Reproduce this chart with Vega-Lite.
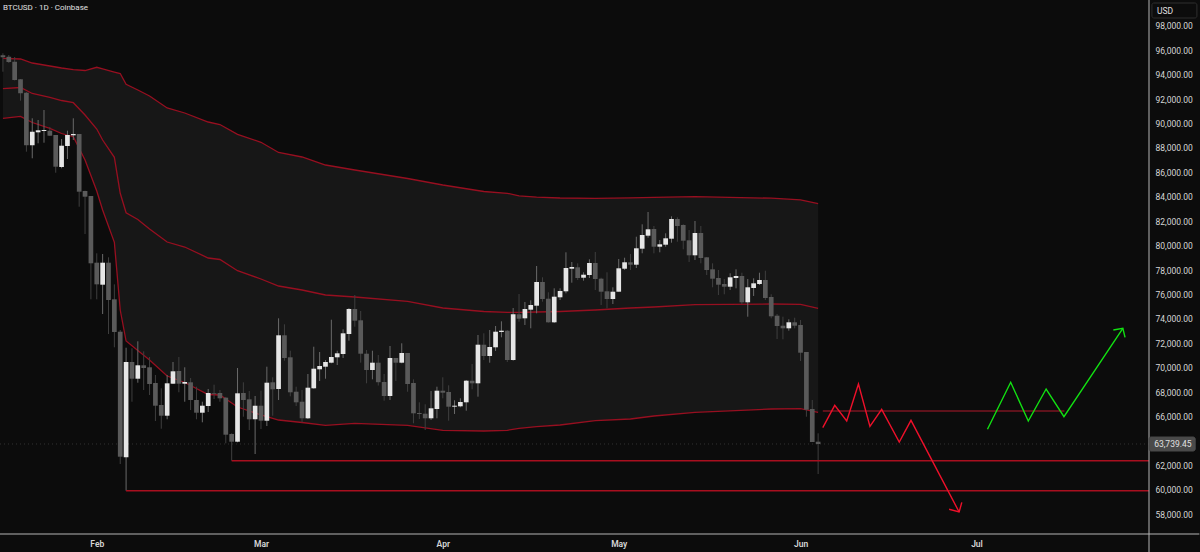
{
  "$schema": "https://vega.github.io/schema/vega-lite/v6.json",
  "background": "#0c0c0c",
  "width": 1149,
  "height": 534,
  "autosize": "none",
  "padding": {"left": 0, "top": 0, "right": 51, "bottom": 18},
  "view": {"stroke": null},
  "config": {"font": "Roboto", "axis": {"labelOverlap": false, "labelFlush": false}},
  "datasets": {
    "candles": [
      {"date":"2026-01-16","o":95600,"h":95762,"l":94254,"c":95434},
      {"date":"2026-01-17","o":95484,"h":95623,"l":94967,"c":95049},
      {"date":"2026-01-18","o":95074,"h":95459,"l":93533,"c":93574},
      {"date":"2026-01-19","o":93631,"h":93656,"l":91877,"c":92483},
      {"date":"2026-01-20","o":92533,"h":92590,"l":87697,"c":88221},
      {"date":"2026-01-21","o":88221,"h":90434,"l":87156,"c":89336},
      {"date":"2026-01-22","o":89287,"h":90295,"l":88385,"c":89451},
      {"date":"2026-01-23","o":89393,"h":91115,"l":88434,"c":89475},
      {"date":"2026-01-24","o":89418,"h":89721,"l":88984,"c":89008},
      {"date":"2026-01-25","o":89065,"h":89065,"l":85975,"c":86467},
      {"date":"2026-01-26","o":86443,"h":88737,"l":86336,"c":88188},
      {"date":"2026-01-27","o":88164,"h":89418,"l":87098,"c":89065},
      {"date":"2026-01-28","o":89041,"h":90434,"l":88656,"c":89147},
      {"date":"2026-01-29","o":89147,"h":89147,"l":83189,"c":84418},
      {"date":"2026-01-30","o":84476,"h":84500,"l":80951,"c":84008},
      {"date":"2026-01-31","o":84066,"h":84066,"l":75598,"c":78549},
      {"date":"2026-02-01","o":78600,"h":79369,"l":75598,"c":76824},
      {"date":"2026-02-02","o":76795,"h":79312,"l":74393,"c":78599},
      {"date":"2026-02-03","o":78599,"h":79041,"l":72754,"c":75541},
      {"date":"2026-02-04","o":75598,"h":76824,"l":71664,"c":72920},
      {"date":"2026-02-05","o":72942,"h":73082,"l":62098,"c":62696},
      {"date":"2026-02-06","o":62647,"h":71631,"l":59910,"c":70459},
      {"date":"2026-02-07","o":70459,"h":71582,"l":67204,"c":69090},
      {"date":"2026-02-08","o":69090,"h":72156,"l":68762,"c":70188},
      {"date":"2026-02-09","o":70188,"h":71336,"l":68164,"c":69967},
      {"date":"2026-02-10","o":70025,"h":70869,"l":67754,"c":68656},
      {"date":"2026-02-11","o":68738,"h":69393,"l":65623,"c":66877},
      {"date":"2026-02-12","o":66934,"h":68302,"l":64992,"c":66057},
      {"date":"2026-02-13","o":66057,"h":69393,"l":65762,"c":68713},
      {"date":"2026-02-14","o":68680,"h":70459,"l":68656,"c":69696},
      {"date":"2026-02-15","o":69721,"h":70869,"l":67976,"c":68680},
      {"date":"2026-02-16","o":68680,"h":70025,"l":67204,"c":68820},
      {"date":"2026-02-17","o":68795,"h":69147,"l":66524,"c":67344},
      {"date":"2026-02-18","o":67344,"h":68434,"l":65762,"c":66303},
      {"date":"2026-02-19","o":66303,"h":67204,"l":65516,"c":66877},
      {"date":"2026-02-20","o":66853,"h":68245,"l":66361,"c":67918},
      {"date":"2026-02-21","o":67893,"h":68598,"l":67426,"c":67836},
      {"date":"2026-02-22","o":67918,"h":68164,"l":67204,"c":67483},
      {"date":"2026-02-23","o":67533,"h":67590,"l":63795,"c":64500},
      {"date":"2026-02-24","o":64557,"h":64614,"l":62369,"c":63926},
      {"date":"2026-02-25","o":63926,"h":69967,"l":63877,"c":67893},
      {"date":"2026-02-26","o":67918,"h":68795,"l":65975,"c":67344},
      {"date":"2026-02-27","o":67401,"h":68082,"l":64885,"c":65762},
      {"date":"2026-02-28","o":65762,"h":67672,"l":62918,"c":66877},
      {"date":"2026-03-01","o":66877,"h":68107,"l":64967,"c":65647},
      {"date":"2026-03-02","o":65647,"h":70074,"l":65213,"c":68762},
      {"date":"2026-03-03","o":68795,"h":69205,"l":66057,"c":68221},
      {"date":"2026-03-04","o":68245,"h":74040,"l":67344,"c":72648},
      {"date":"2026-03-05","o":72648,"h":73549,"l":70566,"c":70787},
      {"date":"2026-03-06","o":70844,"h":71385,"l":67648,"c":67975},
      {"date":"2026-03-07","o":68024,"h":68434,"l":66853,"c":67155},
      {"date":"2026-03-08","o":67204,"h":68164,"l":65516,"c":65844},
      {"date":"2026-03-09","o":65844,"h":69475,"l":65787,"c":68352},
      {"date":"2026-03-10","o":68303,"h":71713,"l":68271,"c":69910},
      {"date":"2026-03-11","o":69860,"h":71279,"l":68902,"c":70131},
      {"date":"2026-03-12","o":70074,"h":70623,"l":69090,"c":70459},
      {"date":"2026-03-13","o":70402,"h":73926,"l":70352,"c":70869},
      {"date":"2026-03-14","o":70844,"h":71385,"l":70213,"c":71172},
      {"date":"2026-03-15","o":71115,"h":73139,"l":70787,"c":72811},
      {"date":"2026-03-16","o":72754,"h":74885,"l":72205,"c":74803},
      {"date":"2026-03-17","o":74803,"h":75951,"l":73353,"c":73844},
      {"date":"2026-03-18","o":73877,"h":74639,"l":70402,"c":71139},
      {"date":"2026-03-19","o":71139,"h":71442,"l":68713,"c":69803},
      {"date":"2026-03-20","o":69803,"h":71385,"l":69040,"c":70402},
      {"date":"2026-03-21","o":70402,"h":71033,"l":68532,"c":68803},
      {"date":"2026-03-22","o":68820,"h":69475,"l":67287,"c":67672},
      {"date":"2026-03-23","o":67672,"h":71770,"l":67344,"c":70787},
      {"date":"2026-03-24","o":70787,"h":70787,"l":68902,"c":70402},
      {"date":"2026-03-25","o":70402,"h":71991,"l":70352,"c":71197},
      {"date":"2026-03-26","o":71197,"h":71197,"l":68023,"c":68656},
      {"date":"2026-03-27","o":68738,"h":69040,"l":65434,"c":66254},
      {"date":"2026-03-28","o":66279,"h":67155,"l":65787,"c":66197},
      {"date":"2026-03-29","o":66222,"h":66991,"l":64885,"c":65844},
      {"date":"2026-03-30","o":65844,"h":68082,"l":65705,"c":66664},
      {"date":"2026-03-31","o":66607,"h":68434,"l":65844,"c":68106},
      {"date":"2026-04-01","o":68106,"h":69205,"l":67483,"c":67942},
      {"date":"2026-04-02","o":67999,"h":68549,"l":65648,"c":66795},
      {"date":"2026-04-03","o":66795,"h":67320,"l":66197,"c":66877},
      {"date":"2026-04-04","o":66828,"h":67483,"l":66746,"c":67180},
      {"date":"2026-04-05","o":67155,"h":68984,"l":66467,"c":68926},
      {"date":"2026-04-06","o":68926,"h":70295,"l":68221,"c":68713},
      {"date":"2026-04-07","o":68713,"h":72672,"l":67615,"c":71877},
      {"date":"2026-04-08","o":71877,"h":72811,"l":70623,"c":70951},
      {"date":"2026-04-09","o":70951,"h":73082,"l":70402,"c":71688},
      {"date":"2026-04-10","o":71664,"h":73410,"l":71361,"c":72942},
      {"date":"2026-04-11","o":72918,"h":73795,"l":72483,"c":73025},
      {"date":"2026-04-12","o":73025,"h":73082,"l":70459,"c":70623},
      {"date":"2026-04-13","o":70623,"h":74885,"l":70566,"c":74369},
      {"date":"2026-04-14","o":74369,"h":76033,"l":73762,"c":74008},
      {"date":"2026-04-15","o":74040,"h":75377,"l":73492,"c":74803},
      {"date":"2026-04-16","o":74746,"h":75516,"l":73221,"c":75131},
      {"date":"2026-04-17","o":75074,"h":78328,"l":74451,"c":77017},
      {"date":"2026-04-18","o":77017,"h":77401,"l":75402,"c":75623},
      {"date":"2026-04-19","o":75647,"h":76172,"l":73680,"c":73713},
      {"date":"2026-04-20","o":73713,"h":76500,"l":73656,"c":75812},
      {"date":"2026-04-21","o":75762,"h":76500,"l":75541,"c":76279},
      {"date":"2026-04-22","o":76254,"h":79451,"l":76090,"c":78164},
      {"date":"2026-04-23","o":78106,"h":78656,"l":76959,"c":78246},
      {"date":"2026-04-24","o":78221,"h":78549,"l":77180,"c":77344},
      {"date":"2026-04-25","o":77368,"h":77811,"l":77123,"c":77614},
      {"date":"2026-04-26","o":77590,"h":78877,"l":77344,"c":78574},
      {"date":"2026-04-27","o":78574,"h":79475,"l":76360,"c":77262},
      {"date":"2026-04-28","o":77287,"h":77368,"l":75131,"c":76221},
      {"date":"2026-04-29","o":76254,"h":77811,"l":74860,"c":75623},
      {"date":"2026-04-30","o":75623,"h":76582,"l":75213,"c":76221},
      {"date":"2026-05-01","o":76221,"h":78901,"l":76221,"c":78139},
      {"date":"2026-05-02","o":78106,"h":79008,"l":77999,"c":78631},
      {"date":"2026-05-03","o":78631,"h":79311,"l":77999,"c":78435},
      {"date":"2026-05-04","o":78435,"h":80729,"l":78164,"c":79779},
      {"date":"2026-05-05","o":79746,"h":81746,"l":79368,"c":80869},
      {"date":"2026-05-06","o":80812,"h":82754,"l":80647,"c":81336},
      {"date":"2026-05-07","o":81361,"h":81606,"l":79368,"c":79910},
      {"date":"2026-05-08","o":79910,"h":80459,"l":79451,"c":80106},
      {"date":"2026-05-09","o":80073,"h":81008,"l":79910,"c":80598},
      {"date":"2026-05-10","o":80565,"h":82401,"l":80238,"c":82180},
      {"date":"2026-05-11","o":82180,"h":82319,"l":80320,"c":81606},
      {"date":"2026-05-12","o":81688,"h":81746,"l":79697,"c":80402},
      {"date":"2026-05-13","o":80434,"h":81279,"l":78656,"c":79205},
      {"date":"2026-05-14","o":79205,"h":82016,"l":78820,"c":81033},
      {"date":"2026-05-15","o":81033,"h":81606,"l":78549,"c":78984},
      {"date":"2026-05-16","o":79040,"h":79065,"l":77590,"c":78000},
      {"date":"2026-05-17","o":78057,"h":78549,"l":76582,"c":77287},
      {"date":"2026-05-18","o":77344,"h":78000,"l":75951,"c":76795},
      {"date":"2026-05-19","o":76852,"h":77262,"l":76008,"c":76631},
      {"date":"2026-05-20","o":76631,"h":77729,"l":76360,"c":77401},
      {"date":"2026-05-21","o":77344,"h":78057,"l":76500,"c":77508},
      {"date":"2026-05-22","o":77508,"h":77778,"l":75213,"c":75352},
      {"date":"2026-05-23","o":75352,"h":77262,"l":74172,"c":76582},
      {"date":"2026-05-24","o":76524,"h":77320,"l":75869,"c":76909},
      {"date":"2026-05-25","o":76852,"h":77778,"l":76771,"c":77180},
      {"date":"2026-05-26","o":77180,"h":77942,"l":75541,"c":75705},
      {"date":"2026-05-27","o":75787,"h":76008,"l":74040,"c":74204},
      {"date":"2026-05-28","o":74254,"h":74393,"l":72344,"c":73409},
      {"date":"2026-05-29","o":73434,"h":74172,"l":72319,"c":73220},
      {"date":"2026-05-30","o":73220,"h":73959,"l":73025,"c":73713},
      {"date":"2026-05-31","o":73713,"h":74090,"l":73220,"c":73434},
      {"date":"2026-06-01","o":73491,"h":73901,"l":70541,"c":71221},
      {"date":"2026-06-02","o":71279,"h":71279,"l":65975,"c":66549},
      {"date":"2026-06-03","o":66607,"h":67344,"l":63902,"c":63902},
      {"date":"2026-06-04","o":63927,"h":64614,"l":61278,"c":63739}
    ],
    "bands": [
      {"date":"2026-01-16","upper":95352,"mid":92861,"lower":90434},
      {"date":"2026-01-19","upper":95295,"mid":92959,"lower":90598},
      {"date":"2026-01-21","upper":94967,"mid":92467,"lower":90090},
      {"date":"2026-01-24","upper":94721,"mid":92156,"lower":89615},
      {"date":"2026-01-26","upper":94557,"mid":91893,"lower":89188},
      {"date":"2026-01-28","upper":94418,"mid":91713,"lower":88926},
      {"date":"2026-01-30","upper":94352,"mid":90705,"lower":87016},
      {"date":"2026-02-01","upper":94615,"mid":89557,"lower":84475},
      {"date":"2026-02-02","upper":94492,"mid":88656,"lower":82918},
      {"date":"2026-02-04","upper":94229,"mid":87238,"lower":80270},
      {"date":"2026-02-05","upper":94106,"mid":84287,"lower":74721},
      {"date":"2026-02-06","upper":93221,"mid":82697,"lower":72180},
      {"date":"2026-02-08","upper":92754,"mid":82139,"lower":71402},
      {"date":"2026-02-10","upper":92262,"mid":81361,"lower":70623},
      {"date":"2026-02-13","upper":91279,"mid":80295,"lower":69311},
      {"date":"2026-02-16","upper":90869,"mid":79885,"lower":68779},
      {"date":"2026-02-20","upper":90131,"mid":78984,"lower":67795},
      {"date":"2026-02-22","upper":89926,"mid":78861,"lower":67754},
      {"date":"2026-02-25","upper":89123,"mid":77943,"lower":66770},
      {"date":"2026-03-01","upper":88467,"mid":77262,"lower":66115},
      {"date":"2026-03-04","upper":87631,"mid":76689,"lower":65705},
      {"date":"2026-03-08","upper":87262,"mid":76361,"lower":65500},
      {"date":"2026-03-12","upper":86606,"mid":75951,"lower":65271},
      {"date":"2026-03-17","upper":86197,"mid":75787,"lower":65434},
      {"date":"2026-03-26","upper":85500,"mid":75434,"lower":65271},
      {"date":"2026-04-01","upper":84967,"mid":74885,"lower":64860},
      {"date":"2026-04-08","upper":84434,"mid":74598,"lower":64803},
      {"date":"2026-04-12","upper":84287,"mid":74533,"lower":64860},
      {"date":"2026-04-14","upper":84082,"mid":74533,"lower":65025},
      {"date":"2026-04-17","upper":83967,"mid":74558,"lower":65156},
      {"date":"2026-04-21","upper":83902,"mid":74598,"lower":65295},
      {"date":"2026-04-27","upper":83877,"mid":74721,"lower":65648},
      {"date":"2026-05-03","upper":83918,"mid":74885,"lower":65787},
      {"date":"2026-05-07","upper":83959,"mid":74967,"lower":66033},
      {"date":"2026-05-14","upper":84008,"mid":75156,"lower":66336},
      {"date":"2026-05-27","upper":83885,"mid":75213,"lower":66607},
      {"date":"2026-06-01","upper":83754,"mid":75189,"lower":66631},
      {"date":"2026-06-04","upper":83434,"mid":74861,"lower":66336}
    ],
    "drawings": [
      {"name":"level66","seq":1,"date":"2026-06-04T19:00:00Z","price":66442},
      {"name":"level66","seq":2,"date":"2026-07-16T00:00:00Z","price":66442},
      {"name":"level62","seq":1,"date":"2026-02-24T00:00:00Z","price":62369},
      {"name":"level62","seq":2,"date":"2026-07-30T10:00:00Z","price":62369},
      {"name":"level60","seq":1,"date":"2026-02-06T00:00:00Z","price":59910},
      {"name":"level60","seq":2,"date":"2026-07-30T10:00:00Z","price":59910},
      {"name":"bear","seq":1,"date":"2026-06-04T19:00:00Z","price":65074},
      {"name":"bear","seq":2,"date":"2026-06-06T20:00:00Z","price":66910},
      {"name":"bear","seq":3,"date":"2026-06-08T21:00:00Z","price":65623},
      {"name":"bear","seq":4,"date":"2026-06-10T21:00:00Z","price":68656},
      {"name":"bear","seq":5,"date":"2026-06-12T20:00:00Z","price":65188},
      {"name":"bear","seq":6,"date":"2026-06-14T20:00:00Z","price":66582},
      {"name":"bear","seq":7,"date":"2026-06-17T20:00:00Z","price":63902},
      {"name":"bear","seq":8,"date":"2026-06-19T20:00:00Z","price":65680},
      {"name":"bear","seq":9,"date":"2026-06-28T01:00:00Z","price":58164},
      {"name":"bearhead","seq":1,"date":"2026-06-26T08:00:00Z","price":58386},
      {"name":"bearhead","seq":2,"date":"2026-06-28T01:00:00Z","price":58164},
      {"name":"bearhead","seq":3,"date":"2026-06-28T12:00:00Z","price":58958},
      {"name":"bull","seq":1,"date":"2026-07-02T21:00:00Z","price":64942},
      {"name":"bull","seq":2,"date":"2026-07-06T20:00:00Z","price":68795},
      {"name":"bull","seq":3,"date":"2026-07-09T20:00:00Z","price":65623},
      {"name":"bull","seq":4,"date":"2026-07-12T21:00:00Z","price":68246},
      {"name":"bull","seq":5,"date":"2026-07-15T22:00:00Z","price":65975},
      {"name":"bull","seq":6,"date":"2026-07-25T23:00:00Z","price":73221},
      {"name":"bullhead","seq":1,"date":"2026-07-24T08:00:00Z","price":73082},
      {"name":"bullhead","seq":2,"date":"2026-07-25T23:00:00Z","price":73221},
      {"name":"bullhead","seq":3,"date":"2026-07-26T08:00:00Z","price":72483}
    ],
    "frame": [
      {"date":"2026-07-30T10:00:00Z","date2":"2026-07-30T10:00:00Z","top":100131,"bottom":54885},
      {"date":"2026-01-15T12:00:00Z","date2":"2026-08-08T00:00:00Z","top":56361,"bottom":56361}
    ],
    "boxes": [
      {"name":"usd","date":"2026-07-30T22:00:00Z","date2":"2026-08-07T14:00:00Z","top":99885,"bottom":98656},
      {"name":"last","date":"2026-07-30T10:00:00Z","date2":"2026-08-07T07:00:00Z","top":64310,"bottom":63164}
    ],
    "labels": [
      {"text":"USD","date":"2026-07-31T19:00:00Z","price":99229},
      {"text":"63,739.45","date":"2026-07-31T07:00:00Z","price":63739}
    ]
  },
  "encoding": {
    "x": {
      "field": "date",
      "type": "temporal",
      "title": null,
      "scale": {"type": "utc", "padding": 0, "domain": ["2026-01-15T12:00:00Z", "2026-07-30T10:00:00Z"]},
      "axis": {
        "orient": "bottom",
        "values": [
          {"year":2026,"month":2,"date":1,"utc":true},
          {"year":2026,"month":3,"date":1,"utc":true},
          {"year":2026,"month":4,"date":1,"utc":true},
          {"year":2026,"month":5,"date":1,"utc":true},
          {"year":2026,"month":6,"date":1,"utc":true},
          {"year":2026,"month":7,"date":1,"utc":true}
        ],
        "labelExpr": "utcFormat(datum.value, '%b')",
        "domain": false,
        "ticks": false,
        "grid": false,
        "labelColor": "#d6d6d6",
        "labelFontSize": 8.5,
        "labelFontWeight": 600,
        "labelPadding": 5
      }
    }
  },
  "layer": [
    {
      "data": {"name": "bands"},
      "mark": {"type": "area", "color": "#171717"},
      "encoding": {
        "y": {
          "field": "upper",
          "type": "quantitative",
          "title": null,
          "scale": {"domain": [56361, 100131], "nice": false, "zero": false},
          "axis": {
            "orient": "right",
            "values": [58000,60000,62000,64000,66000,68000,70000,72000,74000,76000,78000,80000,82000,84000,86000,88000,90000,92000,94000,96000,98000],
            "tickCount": 30,
            "format": ",.2f",
            "domain": false,
            "ticks": false,
            "grid": false,
            "labelColor": "#d6d6d6",
            "labelFontSize": 8.5,
            "labelPadding": 6
          }
        },
        "y2": {"field": "lower"}
      }
    },
    {
      "data": {"name": "bands"},
      "mark": {"type": "line", "color": "#970f20", "strokeWidth": 1.3},
      "encoding": {"y": {"field": "upper", "type": "quantitative"}}
    },
    {
      "data": {"name": "bands"},
      "mark": {"type": "line", "color": "#970f20", "strokeWidth": 1.3},
      "encoding": {"y": {"field": "mid", "type": "quantitative"}}
    },
    {
      "data": {"name": "bands"},
      "mark": {"type": "line", "color": "#970f20", "strokeWidth": 1.3},
      "encoding": {"y": {"field": "lower", "type": "quantitative"}}
    },
    {
      "data": {"values": [{"date":"2026-01-15T12:00:00Z","date2":"2026-07-30T10:00:00Z","price":63739}]},
      "mark": {"type": "rule", "color": "#333333", "strokeWidth": 1, "strokeDash": [1, 3]},
      "encoding": {
        "x2": {"field": "date2"},
        "y": {"field": "price", "type": "quantitative"}
      }
    },
    {
      "data": {"name": "candles"},
      "mark": {"type": "rule", "strokeWidth": 1},
      "encoding": {
        "y": {"field": "h", "type": "quantitative"},
        "y2": {"field": "l"},
        "color": {"condition": {"test": "datum.c >= datum.o", "value": "#6a6a6a"}, "value": "#3f3f3f"}
      }
    },
    {
      "data": {"name": "candles"},
      "mark": {"type": "bar", "size": 4.7},
      "encoding": {
        "y": {"field": "o", "type": "quantitative"},
        "y2": {"field": "c"},
        "color": {"condition": {"test": "datum.c >= datum.o", "value": "#e6e6e6"}, "value": "#5a5a5a"}
      }
    },
    {
      "data": {"name": "drawings"},
      "mark": {"type": "line", "strokeWidth": 1.4},
      "encoding": {
        "y": {"field": "price", "type": "quantitative"},
        "order": {"field": "seq"},
        "detail": {"field": "name"},
        "color": {
          "field": "name",
          "legend": null,
          "scale": {
            "domain": ["level66", "level62", "level60", "bear", "bearhead", "bull", "bullhead"],
            "range": ["#7a1420", "#a80f1f", "#a80f1f", "#ee102a", "#ee102a", "#12e012", "#12e012"]
          }
        }
      }
    },
    {
      "data": {"name": "frame"},
      "mark": {"type": "rule", "color": "#b4b4b4", "strokeWidth": 1},
      "encoding": {
        "x2": {"field": "date2"},
        "y": {"field": "top", "type": "quantitative"},
        "y2": {"field": "bottom"}
      }
    },
    {
      "data": {"name": "boxes"},
      "mark": {"type": "rect", "cornerRadius": 2},
      "encoding": {
        "x2": {"field": "date2"},
        "y": {"field": "top", "type": "quantitative"},
        "y2": {"field": "bottom"},
        "fill": {"condition": {"test": "datum.name === 'last'", "value": "#4a4a4a"}, "value": "#0c0c0c"},
        "stroke": {"condition": {"test": "datum.name === 'last'", "value": "#4a4a4a"}, "value": "#2e2e2e"}
      }
    },
    {
      "data": {"name": "labels"},
      "mark": {"type": "text", "align": "left", "baseline": "middle", "fontSize": 8.5, "color": "#e0e0e0"},
      "encoding": {
        "y": {"field": "price", "type": "quantitative"},
        "text": {"field": "text"}
      }
    },
    {
      "data": {"values": [{"text":"BTCUSD · 1D · Coinbase","date":"2026-01-16T00:00:00Z","price":99475}]},
      "mark": {"type": "text", "align": "left", "baseline": "middle", "fontSize": 8, "color": "#e0e0e0"},
      "encoding": {
        "y": {"field": "price", "type": "quantitative"},
        "text": {"field": "text"}
      }
    }
  ]
}
